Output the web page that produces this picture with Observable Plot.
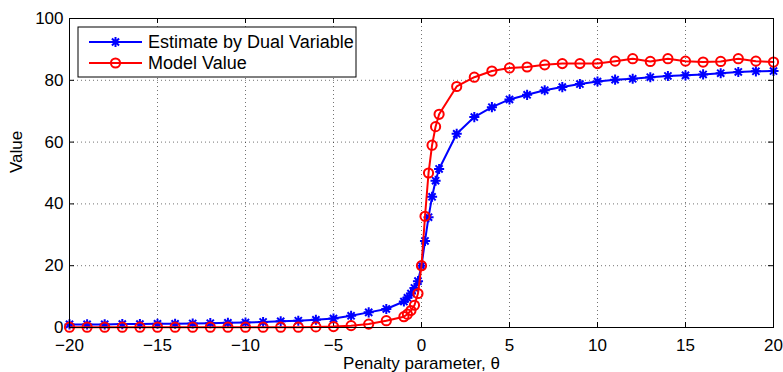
<!DOCTYPE html>
<html>
<head>
<meta charset="utf-8">
<script src="https://cdn.jsdelivr.net/npm/d3@7"></script>
<script src="https://cdn.jsdelivr.net/npm/@observablehq/plot@0.6"></script>
<style>
  body { margin: 0; background: #fff; }
  #chart { width: 783px; height: 372px; }
</style>
</head>
<body>
<div id="chart"></div>
<script>
// Penalty parameter values (coarse steps far from 0, fine steps around 0)
const theta = [-20, -19, -18, -17, -16, -15, -14, -13, -12, -11, -10, -9, -8, -7, -6, -5, -4, -3, -2, -1,
  -0.8, -0.6, -0.4, -0.2, 0, 0.2, 0.4, 0.6, 0.8, 1,
  2, 3, 4, 5, 6, 7, 8, 9, 10, 11, 12, 13, 14, 15, 16, 17, 18, 19, 20];

// Estimate obtained from the dual variable
const dualEstimate = [1.0, 1.0, 1.0, 1.1, 1.1, 1.2, 1.2, 1.3, 1.4, 1.5, 1.6, 1.8, 2.0, 2.2, 2.5, 2.9, 3.8, 4.9, 6.0, 8.4,
  9.6, 11.0, 12.8, 15.0, 20.0, 28.0, 35.7, 42.3, 47.5, 51.3,
  62.7, 68.1, 71.3, 73.8, 75.3, 76.8, 77.8, 78.8, 79.6, 80.2, 80.5, 81.0, 81.4, 81.6, 81.9, 82.3, 82.7, 82.9, 83.0];

// Value computed from the model
const modelValue = [0.1, 0.1, 0.1, 0.1, 0.1, 0.1, 0.1, 0.1, 0.1, 0.1, 0.1, 0.1, 0.1, 0.1, 0.2, 0.3, 0.6, 1.1, 2.2, 3.5,
  4.3, 5.5, 7.2, 11.0, 20.0, 36.0, 50.0, 59.0, 65.0, 69.0,
  78.0, 81.0, 83.0, 84.0, 84.3, 85.0, 85.4, 85.4, 85.4, 86.2, 87.0, 86.1, 87.0, 86.2, 85.9, 86.1, 87.0, 86.2, 85.9];

const xTicks = [-20, -15, -10, -5, 0, 5, 10, 15, 20];
const yTicks = [0, 20, 40, 60, 80, 100];
const seriesNames = ["Estimate by Dual Variable", "Model Value"];
const seriesColors = ["#0000ff", "#ff0000"];
const xLabel = "Penalty parameter, θ";
const yLabel = "Value";

// Eight-spoke asterisk (plus overlaid with a cross)
const asterisk8 = {
  draw(ctx, size) {
    const r = 1.1 * Math.sqrt(size / Math.PI);
    const d = r * Math.SQRT1_2;
    ctx.moveTo(-r, 0); ctx.lineTo(r, 0);
    ctx.moveTo(0, -r); ctx.lineTo(0, r);
    ctx.moveTo(-d, -d); ctx.lineTo(d, d);
    ctx.moveTo(-d, d); ctx.lineTo(d, -d);
  }
};
const seriesSymbols = [asterisk8, "circle"];

const rows = seriesNames.flatMap((name, s) =>
  theta.map((t, i) => ({theta: t, value: (s === 0 ? dualEstimate : modelValue)[i], series: name}))
);

const W = 783, H = 372;
const M = {top: 18, right: 10, bottom: 45, left: 69};
const plotW = W - M.left - M.right;
const plotH = H - M.top - M.bottom;
const fontFamily = "'Liberation Sans', Arial, Helvetica, sans-serif";
const fontSize = 17;
const markerR = 4.6;

// Boxed legend in the upper-left corner of the axes
function legend() {
  return (index, scales, values, dims) => {
    const g = d3.create("svg:g").attr("font-family", fontFamily).attr("font-size", 18);
    const x0 = dims.marginLeft + 9, y0 = dims.marginTop + 9;
    g.append("rect").attr("x", x0).attr("y", y0).attr("width", 278).attr("height", 50)
      .attr("fill", "#fff").attr("stroke", "#000").attr("stroke-width", 1);
    seriesNames.forEach((name, i) => {
      const cy = y0 + 15 + i * 21;
      const color = scales.color(name);
      g.append("line").attr("x1", x0 + 11).attr("x2", x0 + 64).attr("y1", cy).attr("y2", cy)
        .attr("stroke", color).attr("stroke-width", 2);
      g.append("path").attr("transform", `translate(${x0 + 37.5},${cy})`)
        .attr("d", d3.symbol(scales.symbol(name), markerR * markerR * Math.PI)())
        .attr("fill", "none").attr("stroke", color).attr("stroke-width", 2);
      g.append("text").attr("x", x0 + 70).attr("y", cy).attr("dy", "0.35em")
        .attr("text-anchor", "start").attr("fill", "#000").text(name);
    });
    return g.node();
  };
}

const chart = Plot.plot({
  width: W,
  height: H,
  marginTop: M.top,
  marginRight: M.right,
  marginBottom: M.bottom,
  marginLeft: M.left,
  style: {fontFamily, fontSize: `${fontSize}px`, background: "#fff", color: "#000", overflow: "visible"},
  x: {domain: [-20, 20]},
  y: {domain: [0, 100]},
  color: {domain: seriesNames, range: seriesColors},
  symbol: {domain: seriesNames, range: seriesSymbols},
  marks: [
    Plot.gridX(xTicks.slice(1, -1), {stroke: "#000", strokeOpacity: 0.55, strokeDasharray: "1,3"}),
    Plot.gridY(yTicks.slice(1, -1), {stroke: "#000", strokeOpacity: 0.55, strokeDasharray: "1,3"}),
    // inward tick marks on all four sides
    Plot.tickX(xTicks, {x: d => d, insetTop: plotH - 5, stroke: "#000"}),
    Plot.tickX(xTicks, {x: d => d, insetBottom: plotH - 5, stroke: "#000"}),
    Plot.tickY(yTicks, {y: d => d, insetRight: plotW - 5, stroke: "#000"}),
    Plot.tickY(yTicks, {y: d => d, insetLeft: plotW - 5, stroke: "#000"}),
    Plot.axisX(xTicks, {tickSize: 0, tickPadding: 11, fontSize, label: null}),
    Plot.axisY(yTicks, {tickSize: 0, tickPadding: 6, fontSize, label: null}),
    ...seriesNames.flatMap(name => [
      Plot.line(rows.filter(d => d.series === name), {x: "theta", y: "value", stroke: "series", strokeWidth: 2}),
      Plot.dot(rows.filter(d => d.series === name), {x: "theta", y: "value", stroke: "series", symbol: "series", r: markerR, strokeWidth: 2, fill: "none"})
    ]),
    Plot.frame({stroke: "#000", strokeWidth: 1}),
    Plot.text([xLabel], {text: d => d, frameAnchor: "bottom", dy: 36, lineAnchor: "middle", fontSize}),
    Plot.text([yLabel], {text: d => d, frameAnchor: "left", dx: -53, rotate: -90, lineAnchor: "middle", fontSize}),
    legend()
  ]
});

document.getElementById("chart").appendChild(chart);
</script>
</body>
</html>
